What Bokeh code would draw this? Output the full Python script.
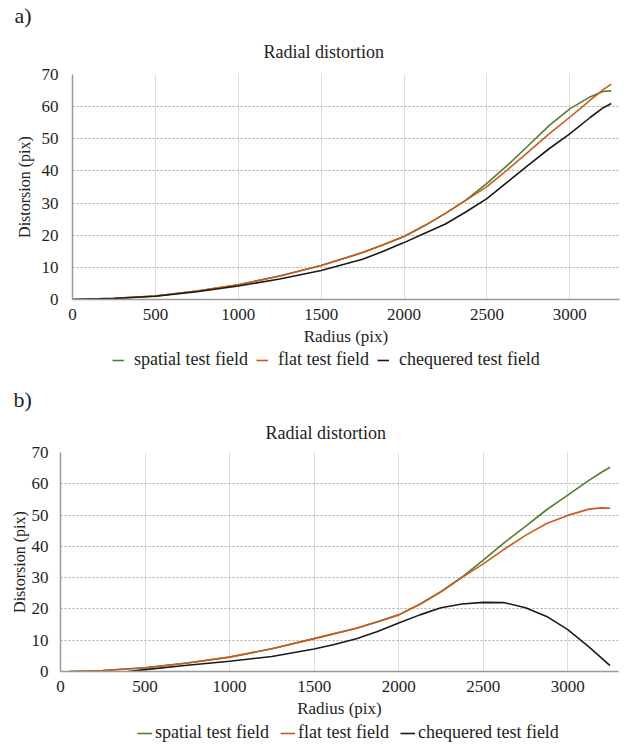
from bokeh.plotting import figure
from bokeh.layouts import column
from bokeh.models import Range1d, FixedTicker, Legend, LegendItem, Title
from bokeh.embed import file_html
from bokeh.resources import INLINE

# ---------------- data ----------------
radius_a = [0, 250, 500, 750, 1000, 1250, 1500, 1750, 1875, 2000, 2125, 2250, 2375, 2500,
            2625, 2750, 2875, 3000, 3125, 3200, 3250]
spatial_a = [0, 0.4, 1.1, 2.6, 4.6, 7.3, 10.6, 14.6, 17.0, 19.6, 23.0, 26.8, 31.0, 36.1,
             41.8, 47.9, 54.1, 59.3, 63.1, 64.7, 64.9]
flat_a = [0, 0.4, 1.1, 2.6, 4.6, 7.3, 10.6, 14.6, 17.0, 19.6, 23.0, 26.8, 30.9, 35.1,
          40.4, 45.9, 51.5, 56.7, 62.1, 65.2, 67.0]
chequered_a = [0, 0.3, 1.0, 2.4, 4.2, 6.4, 9.0, 12.5, 15.0, 17.7, 20.6, 23.5, 27.3, 31.4,
               36.6, 41.8, 46.9, 51.5, 56.7, 59.6, 61.0]

radius_b = [50, 250, 500, 750, 1000, 1250, 1500, 1750, 1875, 2000, 2125, 2250, 2375, 2500,
            2625, 2750, 2875, 3000, 3125, 3200, 3250]
spatial_b = [0, 0.3, 1.2, 2.7, 4.6, 7.3, 10.5, 13.8, 15.9, 18.1, 21.5, 25.5, 30.2, 35.6,
             41.2, 46.4, 51.7, 56.4, 61.1, 63.7, 65.3]
flat_b = [0, 0.3, 1.2, 2.7, 4.6, 7.3, 10.5, 13.8, 15.9, 18.1, 21.5, 25.5, 30.1, 34.4,
          39.1, 43.5, 47.3, 49.9, 51.9, 52.3, 52.2]
radius_b_cheq = [400, 500, 750, 1000, 1250, 1500, 1625, 1750, 1875, 2000, 2125, 2250, 2375,
                 2500, 2625, 2750, 2875, 3000, 3125, 3250]
chequered_b = [0, 0.6, 2.0, 3.3, 4.8, 7.2, 8.7, 10.5, 12.8, 15.5, 18.1, 20.4, 21.6,
               22.1, 22.0, 20.4, 17.6, 13.4, 7.9, 1.9]

x_ticks = [0, 500, 1000, 1500, 2000, 2500, 3000]
y_ticks = [0, 10, 20, 30, 40, 50, 60, 70]
series_names = ["spatial test field", "flat test field", "chequered test field"]
colors = ["#4f7f2f", "#cc5a1c", "#1a1a1a"]

FONT = "Liberation Serif"
TXT = "#1e1e1e"


def make_panel(tag, tag_off, tag_standoff, title_off, title_standoff, xs_list, ys_list,
               width, height, left, top, bottom, ylab_off, ytick_off):
    p = figure(width=width, height=height, output_backend="svg", toolbar_location=None,
               x_range=Range1d(0, 3300), y_range=Range1d(0, 70),
               min_border_left=left, min_border_top=top, min_border_bottom=bottom,
               min_border_right=4, title=tag)
    p.title.align = "left"
    p.title.offset = tag_off
    p.title.text_font = FONT
    p.title.text_font_size = "22px"
    p.title.text_font_style = "normal"
    p.title.text_color = TXT
    p.title.standoff = tag_standoff
    p.add_layout(Title(text="Radial distortion", align="left", offset=title_off,
                       text_font=FONT, text_font_size="18px", text_font_style="normal",
                       text_color=TXT, standoff=title_standoff), "above")
    p.outline_line_color = None

    for ax in (p.xaxis[0], p.yaxis[0]):
        ax.axis_line_color = "#999999"
        ax.axis_line_width = 1.5
        ax.major_tick_line_color = None
        ax.minor_tick_line_color = None
        ax.major_label_text_font = FONT
        ax.major_label_text_font_size = "17px"
        ax.major_label_text_color = TXT
        ax.axis_label_text_font = FONT
        ax.axis_label_text_font_style = "normal"
        ax.axis_label_text_color = TXT
    p.xaxis.axis_label_text_font_size = "17px"
    p.yaxis.axis_label_text_font_size = "16px"
    p.xaxis.ticker = FixedTicker(ticks=x_ticks)
    p.yaxis.ticker = FixedTicker(ticks=y_ticks)
    p.xaxis.axis_label = "Radius (pix)"
    p.yaxis.axis_label = "Distorsion (pix)"
    p.xaxis.major_label_standoff = 3
    p.xaxis.axis_label_standoff = 4
    p.yaxis.major_label_standoff = ytick_off
    p.yaxis.axis_label_standoff = ylab_off

    p.xgrid.grid_line_color = "#dddddd"
    p.xgrid.grid_line_width = 1
    p.ygrid.grid_line_color = "#aaaaaa"
    p.ygrid.grid_line_dash = "2 2"

    for (xs, ys), c in zip(zip(xs_list, ys_list), colors):
        p.line(xs, ys, line_color=c, line_width=1.6)
    return p


def make_legend(width, height, loc, glyph_w, standoff, spacing, xs_list, ys_list):
    # legend strip; the series are drawn outside its visible range, only the key shows
    lf = figure(width=width, height=height, output_backend="svg", toolbar_location=None,
                x_range=Range1d(-20000, -10000), y_range=Range1d(0, 70),
                x_axis_location=None, y_axis_location=None,
                min_border_left=0, min_border_right=0, min_border_top=0, min_border_bottom=0)
    lf.grid.visible = False
    lf.outline_line_color = None
    items = []
    for (xs, ys), name, c in zip(zip(xs_list, ys_list), series_names, colors):
        r = lf.line(xs, ys, line_color=c, line_width=1.6)
        items.append(LegendItem(label=name, renderers=[r]))
    leg = Legend(items=items, orientation="horizontal", location=loc,
                 label_text_font=FONT, label_text_font_size="18px", label_text_color=TXT,
                 glyph_width=glyph_w, glyph_height=12, spacing=spacing, label_standoff=standoff,
                 padding=0, margin=0, border_line_color=None, background_fill_alpha=0)
    lf.add_layout(leg)
    return lf


pa = make_panel("a)", -58, 0, 191, 25,
                [radius_a, radius_a, radius_a], [spatial_a, flat_a, chequered_a],
                623, 348, 72, 73, 49, 6, 8)
la = make_legend(623, 22, (40, 0), 12, 10, 8,
                 [radius_a, radius_a, radius_a], [spatial_a, flat_a, chequered_a])
pb = make_panel("b)", -47, 0, 205, 19,
                [radius_b, radius_b, radius_b_cheq], [spatial_b, flat_b, chequered_b],
                622, 350, 60, 82, 45, 1, 6)
lb = make_legend(622, 26, (77, 3), 15, 3, 11,
                 [radius_b, radius_b, radius_b_cheq], [spatial_b, flat_b, chequered_b])

layout = column(column(pa, la, spacing=0), column(pb, lb, spacing=0), spacing=0)
open("out.html", "w").write(file_html(layout, INLINE))
